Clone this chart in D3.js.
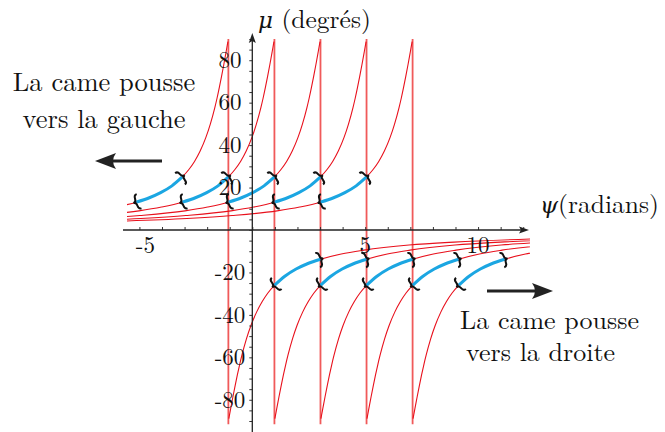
<!DOCTYPE html>
<html>
<head>
<meta charset="utf-8">
<script src="https://d3js.org/d3.v7.min.js"></script>
<style>
  body { margin: 0; background: #fff; }
</style>
</head>
<body>
<div id="my_dataviz"></div>
<script>

// psi (radians) of each jump, where mu goes from +90 to -90
var asymptotes = [-1.06, 0.98, 3.02, 5.06, 7.1];
// distance to the jump (radians), same samples for both branches
var branchDist = [0.02, 0.05, 0.1, 0.2, 0.3, 0.4, 0.5, 0.6, 0.8, 1.0, 1.25, 1.5, 1.75, 2.04, 2.5, 3.0, 3.5, 4.08, 5, 6, 8, 10, 13.5];
// mu (degrees) on the branch left of the jump
var leftMu = [88.8, 87.0, 84.0, 78.1, 72.5, 67.2, 62.2, 57.7, 49.9, 43.5, 37.2, 32.3, 28.5, 25.0, 20.8, 17.6, 15.2, 13.1, 10.8, 9.0, 6.8, 5.4, 4.0];
// mu (degrees) on the branch right of the jump
var rightMu = [-88.9, -87.1, -84.3, -78.7, -73.3, -68.2, -63.4, -59.0, -51.3, -45.0, -38.7, -33.7, -29.7, -26.1, -21.8, -18.4, -15.9, -13.8, -11.3, -9.5, -7.1, -5.7, -4.2];
// part of every branch drawn in blue (distance to the jump)
var blueDist = [2.04, 4.08];

var xTicks = d3.range(-5, 13);
var xLabels = [-5, 5, 10];
var yTicks = d3.range(-90, 91, 5);
var yLabels = [-80, -60, -40, -20, 20, 40, 60, 80];

var width = 665, height = 432;
var serif = "Latin Modern Roman";
var greek = "DejaVu Serif";

var svg = d3.select("#my_dataviz")
  .append("svg")
    .attr("width", width)
    .attr("height", height);

var x = d3.scaleLinear().domain([-5.55, 12.3]).range([127, 530]);
var y = d3.scaleLinear().domain([-90, 90]).range([421, 39]);

svg.append("clipPath").attr("id", "plotclip")
  .append("rect")
    .attr("x", x(-5.55)).attr("y", 0)
    .attr("width", x(12.3) - x(-5.55)).attr("height", height);

// one branch as a list of points sorted by psi
function branch(a, side) {
  var pts = branchDist.map(function(d, i) {
    return side < 0 ? {psi: a - d, mu: leftMu[i], d: d} : {psi: a + d, mu: rightMu[i], d: d};
  });
  return pts.sort(function(p, q) { return p.psi - q.psi; });
}

var branches = [];
asymptotes.forEach(function(a) {
  branches.push(branch(a, -1));
  branches.push(branch(a, 1));
});

var line = d3.line()
  .x(function(d) { return x(d.psi); })
  .y(function(d) { return y(d.mu); })
  .curve(d3.curveMonotoneX);

var plot = svg.append("g").attr("clip-path", "url(#plotclip)");

// vertical jumps
plot.selectAll("vlines")
  .data(asymptotes)
  .enter()
  .append("line")
    .attr("x1", function(d) { return x(d); })
    .attr("x2", function(d) { return x(d); })
    .attr("y1", y(90))
    .attr("y2", y(-91.5))
    .attr("stroke", "#f05a5a")
    .attr("stroke-width", 1.8);

// red curves
plot.selectAll("branches")
  .data(branches)
  .enter()
  .append("path")
    .attr("d", line)
    .attr("fill", "none")
    .attr("stroke", "#e8101c")
    .attr("stroke-width", 1.1);

// blue parts
var blues = branches.map(function(b) {
  return b.filter(function(p) { return p.d >= blueDist[0] - 1e-9 && p.d <= blueDist[1] + 1e-9; });
});

plot.selectAll("blues")
  .data(blues)
  .enter()
  .append("path")
    .attr("d", line)
    .attr("fill", "none")
    .attr("stroke", "#1ba6e2")
    .attr("stroke-width", 3);

// curly brace, vertical, point facing left
var bh = 15, bw = 6;
var braceD = "M" + (bw / 2) + "," + (-bh / 2) +
  " Q0," + (-bh / 2) + " 0," + (-bh / 4) +
  " Q0,0 " + (-bw / 2) + ",0" +
  " Q0,0 0," + (bh / 4) +
  " Q0," + (bh / 2) + " " + (bw / 2) + "," + (bh / 2);

function angleOf(p, q) {
  return Math.atan2(y(q.mu) - y(p.mu), x(q.psi) - x(p.psi)) * 180 / Math.PI;
}

blues.forEach(function(b) {
  var n = b.length;
  var a0 = angleOf(b[0], b[1]);
  var a1 = angleOf(b[n - 2], b[n - 1]);
  svg.append("path")
    .attr("d", braceD)
    .attr("transform", "translate(" + x(b[0].psi) + "," + y(b[0].mu) + ") rotate(" + a0 + ")")
    .attr("fill", "none").attr("stroke", "#111").attr("stroke-width", 2);
  svg.append("path")
    .attr("d", braceD)
    .attr("transform", "translate(" + x(b[n - 1].psi) + "," + y(b[n - 1].mu) + ") rotate(" + a1 + ") scale(-1,1)")
    .attr("fill", "none").attr("stroke", "#111").attr("stroke-width", 2);
});

// x axis
svg.append("g")
  .attr("transform", "translate(0," + y(0) + ")")
  .call(d3.axisTop(x).tickValues(xTicks).tickSize(3).tickFormat(""))
  .call(function(g) { g.select(".domain").remove(); })
  .selectAll("line").attr("stroke", "#333");

svg.append("line")
  .attr("x1", 123).attr("x2", 522)
  .attr("y1", y(0)).attr("y2", y(0))
  .attr("stroke", "#222").attr("stroke-width", 1.3);
svg.append("path")
  .attr("d", "M529," + y(0) + " L519," + (y(0) - 3.5) + " L521," + y(0) + " L519," + (y(0) + 3.5) + "Z")
  .attr("fill", "#222");

// y axis
svg.append("g")
  .attr("transform", "translate(" + x(0) + ",0)")
  .call(d3.axisLeft(y).tickValues(yTicks).tickSize(3).tickFormat(""))
  .call(function(g) { g.select(".domain").remove(); })
  .selectAll("line").attr("stroke", "#333");

svg.append("line")
  .attr("x1", x(0)).attr("x2", x(0))
  .attr("y1", height).attr("y2", 40)
  .attr("stroke", "#222").attr("stroke-width", 1.3);
svg.append("path")
  .attr("d", "M" + x(0) + ",33 L" + (x(0) - 3.5) + ",43 L" + x(0) + ",41 L" + (x(0) + 3.5) + ",43Z")
  .attr("fill", "#222");

// tick labels
svg.selectAll("ylab")
  .data(yLabels)
  .enter()
  .append("text")
    .attr("x", 230)
    .attr("y", function(d) { return y(d); })
    .attr("dy", "0.34em")
    .attr("text-anchor", "middle")
    .attr("font-family", serif)
    .attr("font-size", 23)
    .attr("fill", "#111")
    .text(function(d) { return d; });

svg.selectAll("xlab")
  .data(xLabels)
  .enter()
  .append("text")
    .attr("x", function(d) { return x(d) + (d < 0 ? 6 : 0); })
    .attr("y", 253)
    .attr("text-anchor", "middle")
    .attr("font-family", serif)
    .attr("font-size", 23)
    .attr("fill", "#111")
    .text(function(d) { return d; });

// plain text helper
function label(tx, ty, anchor, size) {
  return svg.append("text")
    .attr("x", tx).attr("y", ty)
    .attr("text-anchor", anchor)
    .attr("font-family", serif)
    .attr("font-size", size)
    .attr("fill", "#111");
}

// axis titles
var yt = label(258, 28, "start", 25.5);
yt.append("tspan").attr("font-family", greek).attr("font-style", "italic").attr("font-size", 23).text("μ");
yt.append("tspan").text(" (degrés)");

var xt = label(540, 213, "start", 25.5);
xt.append("tspan").attr("font-family", greek).attr("font-style", "italic").attr("font-size", 23).text("ψ");
xt.append("tspan").text("(radians)");

// notes
label(104, 91, "middle", 26.5).text("La came pousse");
label(104, 128, "middle", 26.5).text("vers la gauche");
label(460, 329, "start", 26).text("La came pousse");
label(466, 361, "start", 26).text("vers la droite");

// push arrows
function arrow(x0, x1, yy) {
  var dir = x1 > x0 ? 1 : -1;
  svg.append("line")
    .attr("x1", x0).attr("x2", x1 - dir * 12)
    .attr("y1", yy).attr("y2", yy)
    .attr("stroke", "#222").attr("stroke-width", 3.2);
  svg.append("path")
    .attr("d", "M" + x1 + "," + yy +
      " L" + (x1 - dir * 21) + "," + (yy - 8) +
      " Q" + (x1 - dir * 15) + "," + yy + " " + (x1 - dir * 21) + "," + (yy + 8) + "Z")
    .attr("fill", "#222");
}
arrow(162, 95, 161);
arrow(487, 553, 291);

</script>
</body>
</html>
